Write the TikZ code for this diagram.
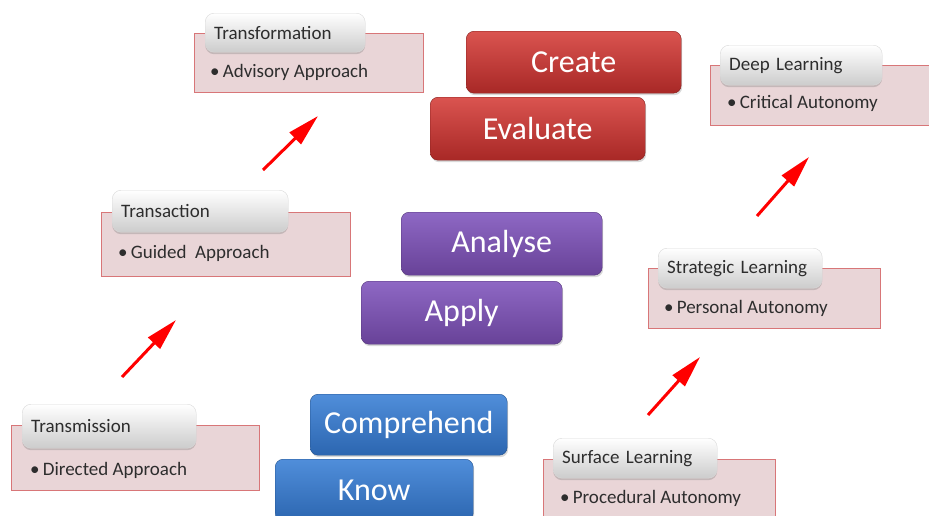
\documentclass[tikz,border=0pt]{standalone}
\usepackage{fontspec}
\setmainfont{Carlito}
\usetikzlibrary{shadows}
\usetikzlibrary{arrows.meta}
\definecolor{panelpink}{RGB}{233,213,215}
\definecolor{panelline}{RGB}{216,118,120}
\definecolor{headgray}{RGB}{204,204,204}
\definecolor{darktext}{RGB}{45,45,45}
\definecolor{redtop}{RGB}{218,84,80}
\definecolor{redbot}{RGB}{168,40,38}
\definecolor{purptop}{RGB}{142,104,196}
\definecolor{purpbot}{RGB}{104,66,152}
\definecolor{bluetop}{RGB}{80,142,218}
\definecolor{bluebot}{RGB}{44,102,176}
\tikzset{panel/.style={rectangle, fill=panelpink, draw=panelline, line width=1pt,
  anchor=north west, inner sep=0pt},
head/.style={rectangle, rounded corners=9pt, top color=white, bottom color=headgray,
  draw=gray!30, anchor=north west, inner xsep=9pt, align=left, text=darktext,
  font=\fontsize{19}{20}\selectfont,
  drop shadow={shadow xshift=0pt, shadow yshift=-2pt, opacity=0.35}},
item/.style={anchor=west, inner sep=0pt, text=darktext, font=\fontsize{19}{20}\selectfont},
button/.style={rectangle, rounded corners=8pt, anchor=north west, text=white,
  font=\fontsize{32}{32}\selectfont,
  drop shadow={shadow xshift=1pt, shadow yshift=-2pt, opacity=0.3}},
redbtn/.style={button, top color=redtop, bottom color=redbot, draw=redbot!80!black},
purpbtn/.style={button, top color=purptop, bottom color=purpbot, draw=purpbot!80!black},
bluebtn/.style={button, top color=bluetop, bottom color=bluebot, draw=bluebot!80!black},
up/.style={draw=red, line width=3pt, -{Triangle[length=32pt,width=16pt]}}}

\begin{document}
\begin{tikzpicture}[x=1pt,y=-1pt]
  \useasboundingbox (0,0) rectangle (929,515);

  % teaching styles, left column
  \node [panel, minimum width=229pt, minimum height=59pt] (tfbox) at (194,33) {};
  \node [head, minimum height=39pt, text width=142pt] (tfhead) at (205,13) {Transformation};
  \node [item] (tfitem) at (210,72) {\textbullet\,Advisory Approach};

  \node [panel, minimum width=249pt, minimum height=64pt] (tabox) at (101,212) {};
  \node [head, minimum height=42pt, text width=158pt] (tahead) at (112,190) {Transaction};
  \node [item] (taitem) at (118,253) {\textbullet\,Guided\ \ Approach};

  \node [panel, minimum width=248pt, minimum height=65pt] (tmbox) at (11,425) {};
  \node [head, minimum height=44pt, text width=156pt] (tmhead) at (22,404) {Transmission};
  \node [item] (tmitem) at (30,470) {\textbullet\,Directed Approach};

  % learning styles, right column
  \node [panel, minimum width=235pt, minimum height=60pt] (dlbox) at (710,65) {};
  \node [head, minimum height=40pt, text width=144pt] (dlhead) at (720,45) {Deep Learning};
  \node [item] (dlitem) at (727,103) {\textbullet\,Critical Autonomy};

  \node [panel, minimum width=232pt, minimum height=60pt] (slbox) at (648,268) {};
  \node [head, minimum height=40pt, text width=146pt] (slhead) at (658,248) {Strategic Learning};
  \node [item] (slitem) at (664,308) {\textbullet\,Personal Autonomy};

  \node [panel, minimum width=232pt, minimum height=70pt] (subox) at (543,459) {};
  \node [head, minimum height=40pt, text width=146pt] (suhead) at (553,438) {Surface Learning};
  \node [item] (suitem) at (560,498) {\textbullet\,Procedural Autonomy};

  % the levels in the middle
  \node [redbtn, minimum width=215pt, minimum height=62pt] (create) at (466,31) {Create};
  \node [redbtn, minimum width=215pt, minimum height=63pt] (evaluate) at (430,97) {Evaluate};
  \node [purpbtn, minimum width=201pt, minimum height=63pt] (analyse) at (401,212) {Analyse};
  \node [purpbtn, minimum width=201pt, minimum height=63pt] (apply) at (361,281) {Apply};
  \node [bluebtn, minimum width=197pt, minimum height=61pt] (comprehend) at (310,394) {Comprehend};
  \node [bluebtn, minimum width=198pt, minimum height=62pt] (know) at (275,459) {Know};

  % arrows
  \coordinate (a1) at (263,170); \coordinate (b1) at (318,116);
  \coordinate (a2) at (122,377); \coordinate (b2) at (176,320);
  \coordinate (a3) at (757,216); \coordinate (b3) at (809,157);
  \coordinate (a4) at (648,415); \coordinate (b4) at (700,357);
  \draw [up] (a1) -- (b1);
  \draw [up] (a2) -- (b2);
  \draw [up] (a3) -- (b3);
  \draw [up] (a4) -- (b4);
\end{tikzpicture}
\end{document}
